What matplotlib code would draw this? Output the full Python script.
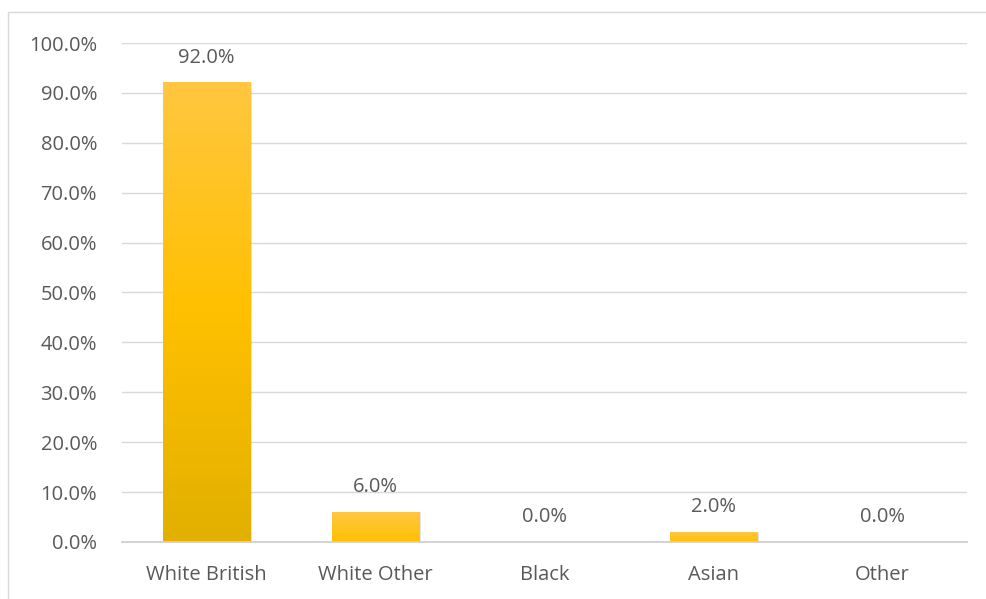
import numpy as np
import matplotlib.pyplot as plt
from matplotlib.colors import LinearSegmentedColormap
from matplotlib.patches import Rectangle

plt.rcParams['font.family'] = ['Open Sans', 'DejaVu Sans']

# data
categories = ['White British', 'White Other', 'Black', 'Asian', 'Other']
values = [92.0, 6.0, 0.0, 2.0, 0.0]
yticks = [0, 10, 20, 30, 40, 50, 60, 70, 80, 90, 100]

text_col = '#595959'
grad = LinearSegmentedColormap.from_list('gold', ['#E2B000', '#FFC000', '#FFC740'])

fig = plt.figure(figsize=(9.86, 5.99), dpi=100)
ax = fig.add_axes([122 / 986, 0.0952, 845 / 986, 0.833])

# chart border
fig.patches.append(Rectangle((8 / 986, -0.1), 1.1, 1 - 12 / 599 + 0.1,
                             transform=fig.transFigure, fill=False,
                             edgecolor='#D9D9D9', linewidth=1))

x = np.arange(len(categories))
bars = ax.bar(x, values, width=0.515, color='none', zorder=3)

# gradient fill for each bar (light top -> dark bottom)
g = np.linspace(0, 1, 256).reshape(-1, 1)
for b in bars:
    if b.get_height() <= 0:
        continue
    x0, y0 = b.get_x(), b.get_y()
    w, h = b.get_width(), b.get_height()
    # soft shadow on the right
    ax.add_patch(Rectangle((x0 + 0.012, y0), w, h * 0.998, color='#000000',
                           alpha=0.10, zorder=2, linewidth=0))
    cm = grad if h > 20 else LinearSegmentedColormap.from_list('g2', ['#FFC000', '#FFC740'])
    ax.imshow(g, cmap=cm, aspect='auto', origin='lower',
              extent=(x0, x0 + w, y0, y0 + h), zorder=3)

for xi, v in zip(x, values):
    ax.annotate(f'{v:.1f}%', (xi, v), xytext=(0, 11), textcoords='offset points',
                ha='center', va='bottom', fontsize=14.5, color=text_col)

ax.set_xlim(-0.5, len(categories) - 0.5)
ax.set_ylim(0, 100)
ax.set_yticks(yticks)
ax.set_yticklabels([f'{t:.1f}%' for t in yticks])
ax.set_xticks(x)
ax.set_xticklabels(categories)
ax.tick_params(axis='both', length=0, labelsize=14.5, colors=text_col)
ax.tick_params(axis='y', pad=18)
ax.tick_params(axis='x', pad=16.5)

ax.grid(axis='y', color='#D9D9D9', linewidth=1, zorder=0)
ax.set_axisbelow(True)
for s in ['top', 'right', 'left']:
    ax.spines[s].set_visible(False)
ax.spines['bottom'].set_color('#D0D0D0')
ax.spines['bottom'].set_linewidth(1.3)
ax.spines['bottom'].set_zorder(4)

fig.savefig('out.png', dpi=100)
